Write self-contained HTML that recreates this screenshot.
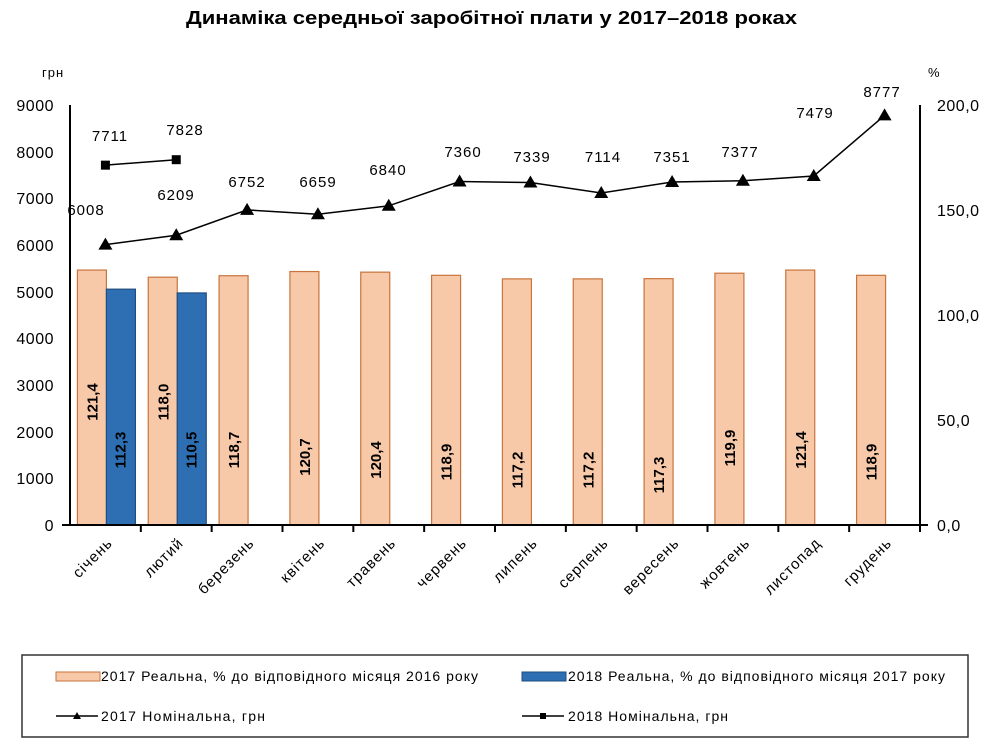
<!DOCTYPE html>
<html><head><meta charset="utf-8"><style>
body{margin:0;background:#fff;}
svg text{font-family:"Liberation Sans","DejaVu Sans",sans-serif;}
</style></head><body>
<svg width="993" height="751" viewBox="0 0 993 751" xmlns="http://www.w3.org/2000/svg">
<rect width="993" height="751" fill="#fff"/>
<text x="186" y="24" font-size="18" font-weight="bold" textLength="611" lengthAdjust="spacingAndGlyphs">Динаміка середньої заробітної плати у 2017–2018 роках</text>
<text x="42" y="77" font-size="13" letter-spacing="1">грн</text>
<text x="928" y="77" font-size="13">%</text>
<g font-size="16" text-anchor="end" letter-spacing="0.5">
<text x="54" y="111">9000</text><text x="54" y="158">8000</text><text x="54" y="204">7000</text><text x="54" y="251">6000</text><text x="54" y="298">5000</text><text x="54" y="344">4000</text><text x="54" y="391">3000</text><text x="54" y="438">2000</text><text x="54" y="484">1000</text><text x="54" y="531">0</text>
</g>
<g font-size="16" letter-spacing="0.5">
<text x="937" y="111">200,0</text><text x="937" y="216">150,0</text><text x="937" y="321">100,0</text><text x="937" y="426">50,0</text><text x="937" y="531">0,0</text>
</g>
<g id="bars" stroke-width="1.2"></g>
<g stroke="#000" stroke-width="2" fill="none">
<line x1="70" y1="105" x2="70" y2="525"/>
<line x1="920" y1="105" x2="920" y2="525"/>
<line x1="62" y1="525" x2="928" y2="525"/>
</g>
<g id="ticks" stroke="#000" stroke-width="2"></g>
<g id="lines"></g>
<g id="cats" font-size="15" letter-spacing="1"></g>
<rect x="22" y="655" width="946" height="82" fill="none" stroke="#333" stroke-width="1.5"/>
<rect x="56" y="672" width="44" height="9" fill="#f8c9a8" stroke="#c8743d"/>
<text x="101" y="681" font-size="14" textLength="377" lengthAdjust="spacing">2017 Реальна, % до відповідного місяця 2016 року</text>
<rect x="522" y="672" width="44" height="9" fill="#2e6fb4" stroke="#1f4e80"/>
<text x="568" y="681" font-size="14" textLength="377" lengthAdjust="spacing">2018 Реальна, % до відповідного місяця 2017 року</text>
<line x1="56" y1="716" x2="98" y2="716" stroke="#000" stroke-width="1.5"/>
<polygon points="77,712 73,719 81,719" fill="#000"/>
<text x="101" y="721" font-size="14" textLength="164" lengthAdjust="spacing">2017 Номінальна, грн</text>
<line x1="522" y1="716" x2="564" y2="716" stroke="#000" stroke-width="1.5"/>
<rect x="540" y="713" width="6" height="6" fill="#000"/>
<text x="568" y="721" font-size="14" textLength="160" lengthAdjust="spacing">2018 Номінальна, грн</text>
</svg>
<script>
const ns="http://www.w3.org/2000/svg";
function el(p,t,a,txt){const e=document.createElementNS(ns,t);for(const k in a)e.setAttribute(k,a[k]);if(txt!==undefined)e.textContent=txt;document.getElementById(p).appendChild(e);return e;}
const cats=["січень","лютий","березень","квітень","травень","червень","липень","серпень","вересень","жовтень","листопад","грудень"];
const p17=[121.4,118.0,118.7,120.7,120.4,118.9,117.2,117.2,117.3,119.9,121.4,118.9];
const p18=[112.3,110.5];
const ly=[402,402,450,457,460,462,470,470,475,448,450,462];
const ly18=[450,450];
const n17=[6008,6209,6752,6659,6840,7360,7339,7114,7351,7377,7479,8777];
const n18=[7711,7828];
const lab17=[[86,210],[176,195],[247,182],[318,182],[388,170],[463,152],[532,157],[603,157],[672,157],[740,152],[815,113],[882,92]];
const lab18=[[110,136],[185,130]];
const w=850/12;
const C=i=>70+w*(i+0.5);
const Y=v=>525-v*420/9000;
const P=v=>525-v*2.1;
for(let i=0;i<12;i++){
 const c=C(i);
 el("bars","rect",{x:c-28,y:P(p17[i]),width:29,height:525-P(p17[i]),fill:"#f8c9a8",stroke:"#c8743d"});
 el("bars","text",{x:0,y:0,"font-size":15,"font-weight":"bold","text-anchor":"middle",transform:`translate(${c-13+5},${ly[i]}) rotate(-90)`},p17[i].toFixed(1).replace(".",","));
 if(i<2){
  el("bars","rect",{x:c+1,y:P(p18[i]),width:29,height:525-P(p18[i]),fill:"#2e6fb4",stroke:"#1f4e80"});
  el("bars","text",{x:0,y:0,"font-size":15,"font-weight":"bold","text-anchor":"middle",transform:`translate(${c+15+5},${ly18[i]}) rotate(-90)`},p18[i].toFixed(1).replace(".",","));
 }
 el("ticks","line",{x1:70+w*(i+1),y1:525,x2:70+w*(i+1),y2:532});
 el("cats","text",{x:0,y:0,"text-anchor":"end",transform:`translate(${c+8},${544}) rotate(-45)`},cats[i]);
}
el("lines","polyline",{points:n17.map((v,i)=>C(i)+","+Y(v)).join(" "),fill:"none",stroke:"#000","stroke-width":1.5});
el("lines","polyline",{points:n18.map((v,i)=>C(i)+","+Y(v)).join(" "),fill:"none",stroke:"#000","stroke-width":1.5});
n17.forEach((v,i)=>{const x=C(i),y=Y(v);el("lines","polygon",{points:`${x},${y-7} ${x-7},${y+5} ${x+7},${y+5}`,fill:"#000"});
 el("lines","text",{x:lab17[i][0],y:lab17[i][1]+5,"font-size":15,"letter-spacing":1,"text-anchor":"middle"},v);});
n18.forEach((v,i)=>{const x=C(i),y=Y(v);el("lines","rect",{x:x-4.5,y:y-4.5,width:9,height:9,fill:"#000"});
 el("lines","text",{x:lab18[i][0],y:lab18[i][1]+5,"font-size":15,"letter-spacing":1,"text-anchor":"middle"},v);});
</script>
</body></html>
